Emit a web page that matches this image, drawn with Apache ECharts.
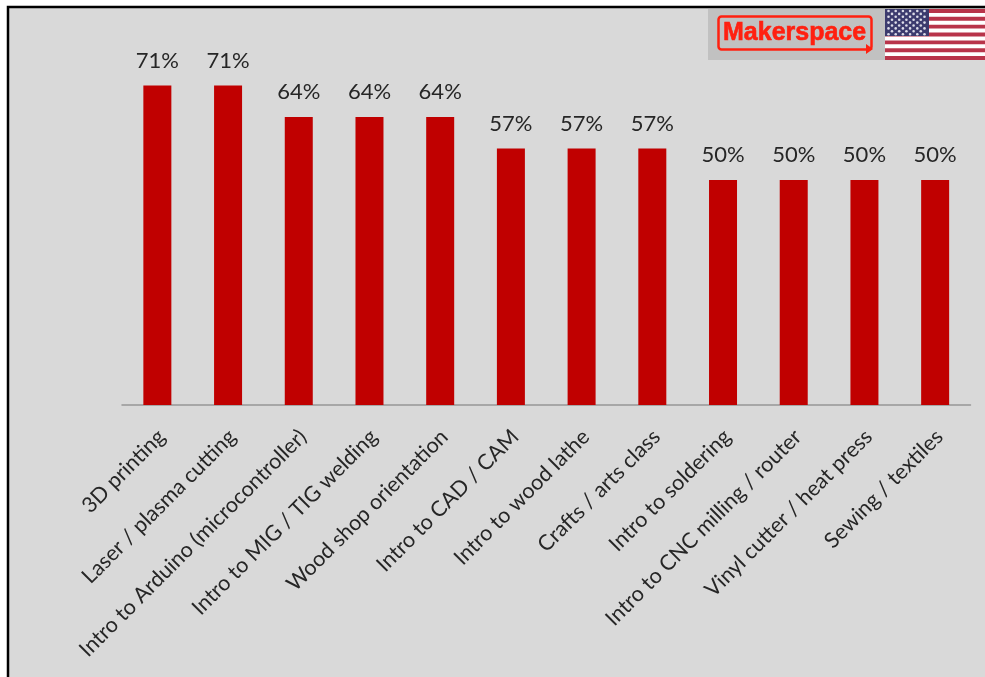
<!DOCTYPE html>
<html>
<head>
<meta charset="utf-8">
<style>html,body{margin:0;padding:0;background:#fff}#chart{width:985px;height:677px}</style>
<script src="https://cdn.jsdelivr.net/npm/echarts@6/dist/echarts.min.js"></script>
</head>
<body>
<div id="chart"></div>
<script>
const categories = ['3D printing','Laser / plasma cutting','Intro to Arduino (microcontroller)','Intro to MIG / TIG welding','Wood shop orientation','Intro to CAD / CAM','Intro to wood lathe','Crafts / arts class','Intro to soldering','Intro to CNC milling / router','Vinyl cutter / heat press','Sewing / textiles'];
const shares = [71,71,64,64,64,57,57,57,50,50,50,50];
const brandName = 'Makerspace';

// Flag stripes and star field for the corner badge
const flagX = 885, flagY = 9, flagW = 100, flagH = 51;
const flagParts = [{type:'rect',z:5,shape:{x:flagX,y:flagY,width:flagW,height:flagH},style:{fill:'#ffffff'}}];
for (let i = 0; i < 13; i += 2) {
  flagParts.push({type:'rect',z:6,shape:{x:flagX,y:flagY+i*flagH/13,width:flagW,height:flagH/13},style:{fill:'#b8344a'}});
}
flagParts.push({type:'rect',z:7,shape:{x:flagX,y:flagY,width:44,height:27},style:{fill:'#3c3b6e'}});
for (let r = 0; r < 9; r++) {
  const n = r % 2 ? 5 : 6;
  for (let c = 0; c < n; c++) {
    flagParts.push({type:'circle',z:8,shape:{cx:flagX+3.5+(r%2?3.5:0)+c*7.2,cy:flagY+2+r*2.9,r:1.3},style:{fill:'#dcdce8'}});
  }
}

const chart = echarts.init(document.getElementById('chart'), null, {renderer:'canvas'});
chart.setOption({
  animation:false,
  backgroundColor:'#ffffff',
  grid:{left:122,right:14.5,top:45,height:360},
  xAxis:{
    type:'category',data:categories,
    axisTick:{show:false},
    axisLine:{lineStyle:{color:'#969696',width:1.5}},
    axisLabel:{rotate:45,interval:0,margin:24,verticalAlign:'top',lineHeight:12,fontFamily:'Lato',fontSize:21.5,color:'#262626'}
  },
  yAxis:{type:'value',min:0,max:80,show:false,splitLine:{show:false}},
  series:[{
    type:'bar',data:shares,barWidth:28,
    itemStyle:{color:'#c00000'},
    label:{show:true,position:'top',distance:14,formatter:'{c}%',fontFamily:'Lato',fontSize:22,color:'#262626'}
  }],
  graphic:[
    {type:'rect',z:-1,shape:{x:8,y:7,width:1000,height:700},style:{fill:'#d9d9d9',stroke:'#000000',lineWidth:2.5}},
    {type:'rect',z:4,shape:{x:708,y:9,width:177,height:51},style:{fill:'#c1c1c1'}},
    {type:'rect',z:5,shape:{x:718.5,y:16.5,width:153,height:33,r:3},style:{fill:'none',stroke:'#ff2010',lineWidth:2.5}},
    {type:'polygon',z:5,shape:{points:[[866,44],[873,49],[866,54]]},style:{fill:'#ff2010'}},
    {type:'text',z:6,x:723,y:33,style:{text:brandName,font:'bold 25px "Liberation Sans"',fill:'#ff2010',stroke:'#ff2010',lineWidth:0.6,textVerticalAlign:'middle'}},
    ...flagParts
  ]
});
</script>
</body>
</html>
